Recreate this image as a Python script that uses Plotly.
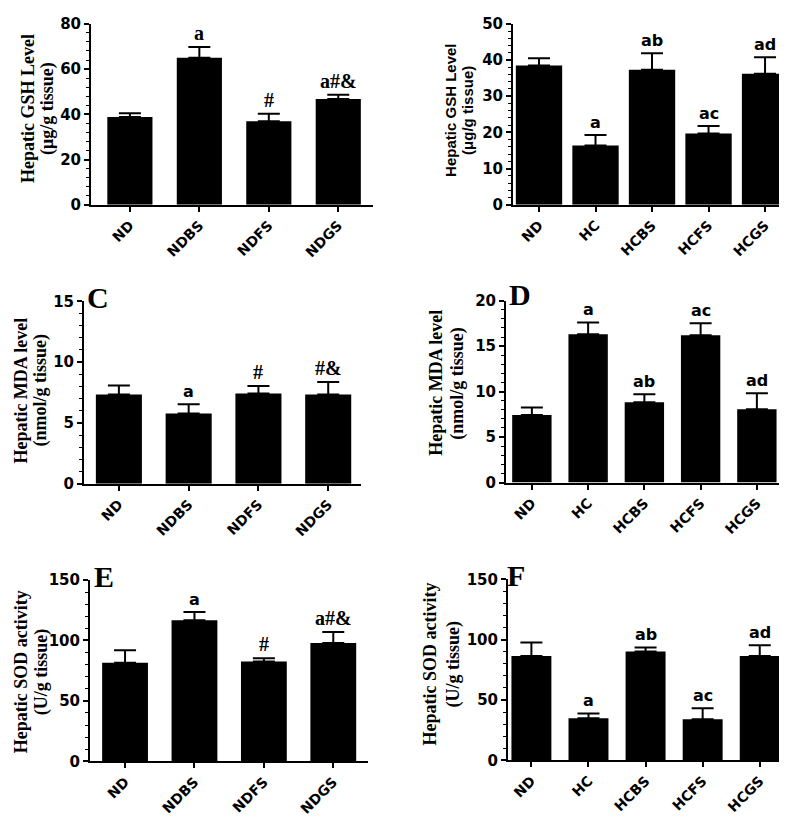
import plotly.graph_objects as go

W, H = 787, 820

cats_nd = ["ND", "NDBS", "NDFS", "NDGS"]
cats_hc = ["ND", "HC", "HCBS", "HCFS", "HCGS"]

# Means and SEM (upper error)
gsh_nd = [38.8, 65.0, 36.9, 46.8]
gsh_nd_sem = [1.7, 4.8, 3.3, 1.8]
gsh_hc = [38.5, 16.4, 37.3, 19.7, 36.2]
gsh_hc_sem = [2.0, 2.9, 4.6, 2.1, 4.6]
mda_nd = [7.34, 5.79, 7.42, 7.34]
mda_nd_sem = [0.75, 0.75, 0.62, 1.02]
mda_hc = [7.42, 16.3, 8.82, 16.2, 8.06]
mda_hc_sem = [0.82, 1.3, 0.89, 1.3, 1.76]
sod_nd = [81.5, 116.8, 82.6, 97.9]
sod_nd_sem = [10.5, 6.8, 2.7, 9.2]
sod_hc = [86.5, 34.9, 90.3, 34.1, 86.5]
sod_hc_sem = [11.1, 4.0, 3.3, 9.1, 8.9]

sig_a = ["", "a", "#", "a#&"]
sig_b = ["", "a", "ab", "ac", "ad"]
sig_c = ["", "a", "#", "#&"]
sig_d = ["", "a", "ab", "ac", "ad"]
sig_e = ["", "a", "#", "a#&"]
sig_f = ["", "a", "ab", "ac", "ad"]

SERIF = "Liberation Serif"
SANS = "Liberation Sans"
WIDE = "DejaVu Sans"

def fx(x):
    return x / W

def fy(y):
    return 1 - y / H

panels = [
    dict(cats=cats_nd, vals=gsh_nd, sem=gsh_nd_sem, sig=sig_a,
         sigfont=[SERIF, SERIF, SERIF, SERIF],
         box=(83, 365, 7, 192), yr=80, dt=20, mdt=4, xr=(-0.56, 3.5), bw=0.65,
         t1="Hepatic GSH Level", t2="(μg/g tissue)", tfont=SERIF,
         tx=(20, 40), ty=94, letter=None),
    dict(cats=cats_hc, vals=gsh_hc, sem=gsh_hc_sem, sig=sig_b,
         sigfont=[WIDE] * 5,
         box=(505, 787, 7, 192), yr=50, dt=10, mdt=2, xr=(-0.46, 4.53), bw=0.82,
         t1="Hepatic GSH Level", t2="(μg/g tissue)", tfont=SANS,
         tx=(443, 460), ty=96, letter=None),
    dict(cats=cats_nd, vals=mda_nd, sem=mda_nd_sem, sig=sig_c,
         sigfont=[WIDE, WIDE, SERIF, SERIF],
         box=(76, 353, 290.7, 477.3), yr=15, dt=5, mdt=1, xr=(-0.5, 3.47), bw=0.66,
         t1="Hepatic MDA level", t2="(nmol/g tissue)", tfont=SERIF,
         tx=(13, 33), ty=382, letter=("C", 90, 287)),
    dict(cats=cats_hc, vals=mda_hc, sem=mda_hc_sem, sig=sig_d,
         sigfont=[WIDE] * 5,
         box=(498, 777, 290, 476), yr=20, dt=5, mdt=1, xr=(-0.46, 4.5), bw=0.70,
         t1="Hepatic MDA level", t2="(nmol/g tissue)", tfont=SERIF,
         tx=(428, 450), ty=374, letter=("D", 512, 284)),
    dict(cats=cats_nd, vals=sod_nd, sem=sod_nd_sem, sig=sig_e,
         sigfont=[WIDE, WIDE, SERIF, SERIF],
         box=(82, 360, 575.7, 761), yr=150, dt=50, mdt=10, xr=(-0.505, 3.5), bw=0.66,
         t1="Hepatic SOD activity", t2="(U/g tissue)", tfont=SERIF,
         tx=(13, 33), ty=670, letter=("E", 96, 572)),
    dict(cats=cats_hc, vals=sod_hc, sem=sod_hc_sem, sig=sig_f,
         sigfont=[WIDE] * 5,
         box=(500, 778, 575, 760), yr=150, dt=50, mdt=10, xr=(-0.41, 4.46), bw=0.70,
         t1="Hepatic SOD activity", t2="(U/g tissue)", tfont=SERIF,
         tx=(422, 445), ty=662, letter=("F", 508, 571)),
]

fig = go.Figure()
annotations = []
layout = {}

for i, p in enumerate(panels, start=1):
    xa = "x" if i == 1 else f"x{i}"
    ya = "y" if i == 1 else f"y{i}"
    xkey = "xaxis" if i == 1 else f"xaxis{i}"
    ykey = "yaxis" if i == 1 else f"yaxis{i}"
    x0, x1, y0, y1 = p["box"]
    fig.add_trace(go.Bar(
        x=p["cats"], y=p["vals"], xaxis=xa, yaxis=ya, width=p["bw"],
        marker=dict(color="black", line=dict(width=0)),
        error_y=dict(type="data", symmetric=False, array=p["sem"],
                     arrayminus=[0] * len(p["sem"]), color="black",
                     thickness=2, width=11),
        showlegend=False, hoverinfo="skip",
    ))
    layout[xkey] = dict(
        domain=[fx(x0), fx(x1)], anchor=ya, type="category",
        range=list(p["xr"]), showline=True, linecolor="black", linewidth=2,
        ticks="outside", ticklen=5, tickwidth=1.5, tickcolor="black",
        tickangle=-45, showgrid=False, zeroline=False,
        tickfont=dict(family=WIDE, size=14, color="black", weight="bold"),
    )
    layout[ykey] = dict(
        domain=[fy(y1), fy(y0)], anchor=xa, range=[0, p["yr"]],
        dtick=p["dt"], tick0=0, showline=True, linecolor="black", linewidth=2,
        ticks="outside", ticklen=5, tickwidth=1.5, tickcolor="black",
        showgrid=False, zeroline=False,
        tickfont=dict(family=WIDE, size=15, color="black", weight="bold"),
        minor=dict(dtick=p["mdt"], ticks="outside", ticklen=3, tickwidth=1,
                   tickcolor="black", showgrid=False),
    )
    # significance labels
    for c, v, s, t, f in zip(p["cats"], p["vals"], p["sem"], p["sig"], p["sigfont"]):
        if not t:
            continue
        annotations.append(dict(
            x=c, y=v + s, xref=xa, yref=ya, text=t, showarrow=False,
            yanchor="bottom", yshift=1,
            font=dict(family=f, size=20 if f == SERIF else 16, color="black",
                      weight="bold"),
        ))
    # axis titles (two lines)
    for tx, txt in zip(p["tx"], (p["t1"], p["t2"])):
        annotations.append(dict(
            x=fx(tx), y=fy(p["ty"]), xref="paper", yref="paper", text=txt,
            showarrow=False, textangle=-90, xanchor="center", yanchor="middle",
            font=dict(family=p["tfont"], size=18 if p["tfont"] == SERIF else 15,
                      color="black", weight="bold"),
        ))
    if p["letter"]:
        L, lx, ly = p["letter"]
        annotations.append(dict(
            x=fx(lx), y=fy(ly), xref="paper", yref="paper", text=L,
            showarrow=False, xanchor="center", yanchor="middle",
            font=dict(family=SERIF, size=30, color="black", weight="bold"),
        ))

fig.update_layout(
    width=W, height=H, margin=dict(l=0, r=0, t=0, b=0),
    paper_bgcolor="white", plot_bgcolor="white",
    annotations=annotations, **layout,
)

fig.write_html("out.html")
